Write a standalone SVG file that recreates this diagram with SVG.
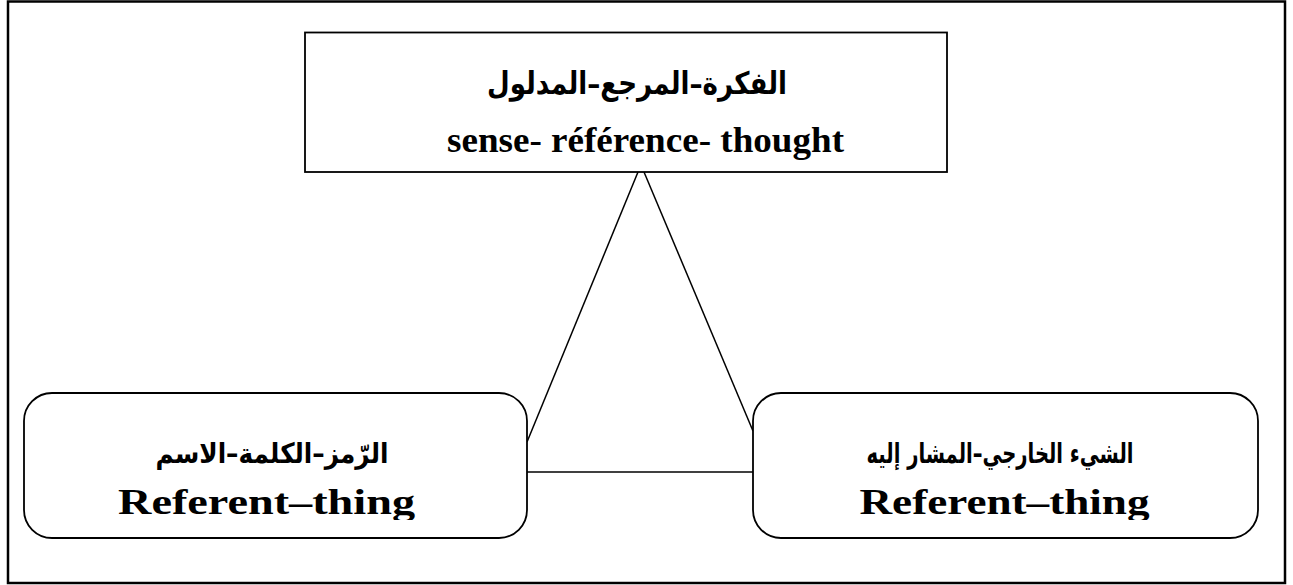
<svg xmlns="http://www.w3.org/2000/svg" width="1293" height="585" viewBox="0 0 1293 585">
<style>
.frame{fill:none;stroke:#000;stroke-width:2.5}
.box{fill:#fff;stroke:#000;stroke-width:1.8}
.conn{stroke:#000;stroke-width:1.5;fill:none}
.ar{font-family:"DejaVu Sans",sans-serif;font-weight:bold;fill:#000;text-anchor:middle}
.en{font-family:"Liberation Serif",serif;font-weight:bold;fill:#000;text-anchor:middle}
</style>
<defs>
<clipPath id="clipL"><rect x="24" y="393" width="503" height="127"/></clipPath>
<clipPath id="clipR"><rect x="753" y="393" width="505" height="127"/></clipPath>
</defs>
<rect class="frame" x="8" y="1.5" width="1277" height="581.5"/>
<g id="connectors">
<line class="conn" x1="638" y1="172" x2="527" y2="442"/>
<line class="conn" x1="644" y1="172" x2="753" y2="431"/>
<line class="conn" x1="527" y1="472" x2="753" y2="472"/>
</g>
<g id="top">
<rect class="box" x="305" y="32.5" width="642" height="139.5"/>
<text class="ar" x="637" y="94" font-size="31" textLength="300" lengthAdjust="spacingAndGlyphs">الفكرة–المرجع–المدلول</text>
<text class="en" x="645.5" y="152" font-size="36" textLength="397" lengthAdjust="spacingAndGlyphs">sense- référence- thought</text>
</g>
<g id="left">
<rect class="box" x="24" y="393" width="503" height="145" rx="28" ry="28"/>
<text class="ar" x="272" y="463" font-size="28" textLength="233" lengthAdjust="spacingAndGlyphs">الرّمز–الكلمة–الاسم</text>
<text class="en" x="266.5" y="514" font-size="36" textLength="297" lengthAdjust="spacingAndGlyphs" clip-path="url(#clipL)">Referent–thing</text>
</g>
<g id="right">
<rect class="box" x="753" y="393" width="505" height="145" rx="28" ry="28"/>
<text class="ar" x="1000" y="463" font-size="28" textLength="267" lengthAdjust="spacingAndGlyphs">الشيء الخارجي–المشار إليه</text>
<text class="en" x="1004.5" y="514" font-size="36" textLength="290" lengthAdjust="spacingAndGlyphs" clip-path="url(#clipR)">Referent–thing</text>
</g>
</svg>
